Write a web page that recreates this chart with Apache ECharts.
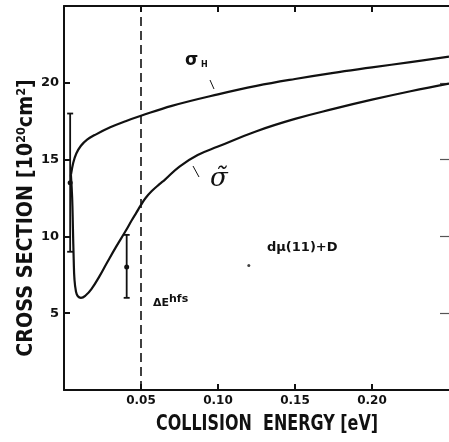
<!DOCTYPE html>
<html>
<head>
<meta charset="utf-8">
<script src="https://cdn.jsdelivr.net/npm/echarts@6.0.0/dist/echarts.min.js"></script>
<style>
  html, body { margin: 0; padding: 0; background: #fff; }
  #chart { width: 449px; height: 442px; }
</style>
</head>
<body>
<div id="chart"></div>
<script>
// sigma_H curve [energy eV, cross section]
var sigmaH = [
  [0.0045, 14.0], [0.006, 14.8], [0.008, 15.4], [0.011, 15.9], [0.015, 16.3],
  [0.02, 16.6], [0.03, 17.1], [0.04, 17.5], [0.05, 17.85], [0.07, 18.5],
  [0.1, 19.25], [0.125, 19.8], [0.15, 20.25], [0.175, 20.65], [0.2, 21.0],
  [0.225, 21.35], [0.25, 21.7]
];
// sigma-tilde curve
var sigmaTilde = [
  [0.0045, 14.0], [0.0053, 12.5], [0.0058, 10.5], [0.0063, 8.5], [0.0068, 7.2],
  [0.0078, 6.4], [0.009, 6.1], [0.011, 6.0], [0.014, 6.15], [0.018, 6.6],
  [0.023, 7.4], [0.028, 8.3], [0.0337, 9.3], [0.04, 10.35], [0.044, 11.05],
  [0.047, 11.55], [0.05, 12.05], [0.053, 12.5], [0.057, 12.95], [0.062, 13.4],
  [0.0656, 13.7], [0.075, 14.55], [0.0868, 15.3], [0.1, 15.85], [0.125, 16.85],
  [0.15, 17.65], [0.175, 18.3], [0.2, 18.9], [0.225, 19.45], [0.25, 19.95]
];
// measured points: [energy, value, low, high]
var measured = [
  [0.004, 13.5, 9.0, 18.0],
  [0.0407, 8.0, 6.0, 10.1]
];
var strayDots = [[0.12, 8.1]];
var hfsEnergy = 0.05;

var xTicks = [0.05, 0.10, 0.15, 0.20];
var yTicks = [5, 10, 15, 20];

var font = '"DejaVu Sans", sans-serif';
var ink = '#111';

var chart = echarts.init(document.getElementById('chart'));

var option = {
  animation: false,
  backgroundColor: '#fff',
  grid: { left: 64, right: -7, top: 6, bottom: 52 },
  xAxis: [{
    type: 'value', min: 0, max: 0.25, interval: 0.05,
    axisLine: { onZero: false, lineStyle: { color: ink, width: 2 } },
    axisTick: { inside: true, length: 6, customValues: xTicks, lineStyle: { color: ink, width: 2 } },
    splitLine: { show: false },
    axisLabel: {
      margin: 5, fontFamily: font, fontWeight: 'bold', fontSize: 12, color: ink,
      customValues: xTicks,
      formatter: function (v) { return v.toFixed(2); }
    }
  }, {
    type: 'value', min: 0, max: 0.25, interval: 0.05, position: 'top',
    axisLine: { onZero: false, lineStyle: { color: ink, width: 2 } },
    axisTick: { inside: true, length: 6, customValues: xTicks, lineStyle: { color: ink, width: 2 } },
    axisLabel: { show: false }, splitLine: { show: false }
  }],
  yAxis: [{
    type: 'value', min: 0, max: 25, interval: 5,
    axisLine: { onZero: false, lineStyle: { color: ink, width: 2 } },
    axisTick: { inside: true, length: 6, customValues: yTicks, lineStyle: { color: ink, width: 2 } },
    splitLine: { show: false },
    axisLabel: {
      margin: 5, fontFamily: font, fontWeight: 'bold', fontSize: 13, color: ink,
      customValues: yTicks
    }
  }, {
    type: 'value', min: 0, max: 25, interval: 5, position: 'right',
    axisLine: { show: false, onZero: false },
    axisTick: { inside: true, length: 9, customValues: yTicks, lineStyle: { color: '#555', width: 1.2 } },
    axisLabel: { show: false }, splitLine: { show: false }
  }],
  series: [{
    name: 'sigmaH', type: 'line', data: sigmaH, smooth: 0.4, showSymbol: false,
    lineStyle: { color: ink, width: 2.2 },
    markLine: {
      silent: true, symbol: 'none', label: { show: false },
      lineStyle: { color: ink, width: 1.6, type: [9, 5] },
      data: [{ xAxis: hfsEnergy }]
    }
  }, {
    name: 'sigmaTilde', type: 'line', data: sigmaTilde, smooth: 0.45, showSymbol: false,
    lineStyle: { color: ink, width: 2.2 }
  }, {
    name: 'measured', type: 'custom', data: measured,
    renderItem: function (params, api) {
      var top = api.coord([api.value(0), api.value(3)]);
      var bot = api.coord([api.value(0), api.value(2)]);
      var mid = api.coord([api.value(0), api.value(1)]);
      var cap = 3;
      var st = { stroke: ink, lineWidth: 1.8 };
      return {
        type: 'group',
        children: [
          { type: 'line', shape: { x1: top[0], y1: top[1], x2: bot[0], y2: bot[1] }, style: st },
          { type: 'line', shape: { x1: top[0] - cap, y1: top[1], x2: top[0] + cap, y2: top[1] }, style: st },
          { type: 'line', shape: { x1: bot[0] - cap, y1: bot[1], x2: bot[0] + cap, y2: bot[1] }, style: st },
          { type: 'circle', shape: { cx: mid[0], cy: mid[1], r: 2.5 }, style: { fill: ink } }
        ]
      };
    }
  }, {
    name: 'dots', type: 'scatter', data: strayDots, symbolSize: 3,
    itemStyle: { color: ink }
  }],
  graphic: [
    // axis names, squeezed to look like the condensed typeface of the original
    {
      type: 'text', x: 267, y: 425, scaleX: 0.76,
      style: {
        text: 'COLLISION  ENERGY [eV]', font: 'bold 21px ' + font, fill: ink,
        align: 'center', verticalAlign: 'middle'
      }
    },
    {
      type: 'text', x: 26, y: 218, rotation: Math.PI / 2, scaleX: 0.87,
      style: {
        text: 'CROSS SECTION [10{sup|20}cm{sup|2}]', font: 'bold 22px ' + font, fill: ink,
        align: 'center', verticalAlign: 'middle',
        rich: { sup: { font: 'bold 13px ' + font, fill: ink, verticalAlign: 'top', padding: [0, 0, 8, 0] } }
      }
    },
    { type: 'text', left: 185, top: 52, style: { text: 'σ', font: 'bold 17px ' + font, fill: ink } },
    { type: 'text', left: 201, top: 61, style: { text: 'H', font: 'bold 8px ' + font, fill: ink } },
    { type: 'line', shape: { x1: 210, y1: 80, x2: 214, y2: 89 }, style: { stroke: ink, lineWidth: 1 } },
    { type: 'text', left: 210, top: 166, style: { text: 'σ̃', font: 'italic 26px "DejaVu Serif", serif', fill: ink } },
    { type: 'line', shape: { x1: 193, y1: 166, x2: 199, y2: 177 }, style: { stroke: ink, lineWidth: 1 } },
    { type: 'text', left: 267, top: 241, style: { text: 'dμ(11)+D', font: 'bold 13px ' + font, fill: ink } },
    {
      type: 'text', left: 153, top: 294,
      style: {
        text: 'ΔE{sup|hfs}', font: 'bold 11px ' + font, fill: ink,
        rich: { sup: { font: 'bold 11px ' + font, fill: ink, verticalAlign: 'top', padding: [0, 0, 8, 0] } }
      }
    }
  ]
};

chart.setOption(option);
</script>
</body>
</html>
